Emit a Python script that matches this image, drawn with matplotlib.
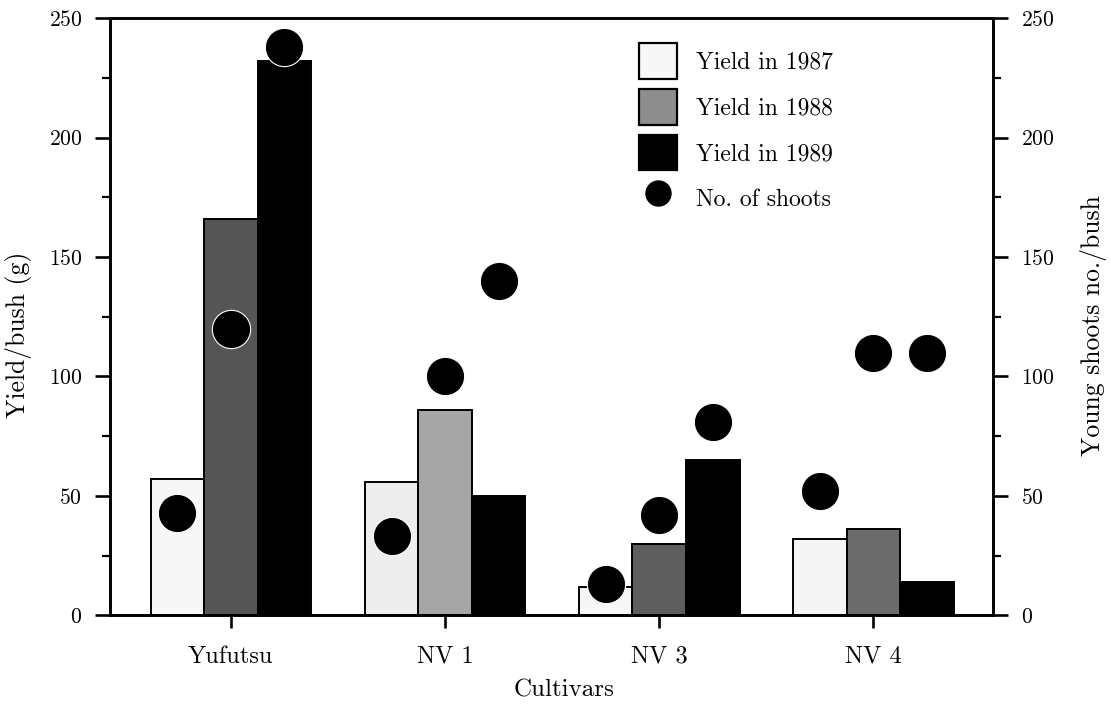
import matplotlib
matplotlib.use('Agg')
import matplotlib.pyplot as plt
from matplotlib.ticker import MultipleLocator
from matplotlib.patches import Patch
import numpy as np

# Data
cultivars = ['Yufutsu', 'NV 1', 'NV 3', 'NV 4']
years = ['1987', '1988', '1989']
yield_1987 = [57, 56, 12, 32]
yield_1988 = [166, 86, 30, 36]
yield_1989 = [232, 50, 65, 14]
shoots_1987 = [43, 33, 13, 52]
shoots_1988 = [120, 100, 42, 110]
shoots_1989 = [238, 140, 81, 110]


def make_chart():
    plt.rcParams['font.family'] = 'serif'
    plt.rcParams['font.serif'] = ['cmr10', 'DejaVu Serif']
    plt.rcParams['axes.formatter.use_mathtext'] = True
    plt.rcParams['mathtext.fontset'] = 'cm'

    fig = plt.figure(figsize=(11.11, 7.04), dpi=100)
    ax = fig.add_axes([0.099, 0.126, 0.795, 0.848])
    ax2 = ax.twinx()

    x = np.arange(len(cultivars))
    width = 0.25
    yields = [yield_1987, yield_1988, yield_1989]
    shoots = [shoots_1987, shoots_1988, shoots_1989]
    # the scanned stipple of 1988 varies a bit from bar to bar
    colors = [['#f7f7f7', '#ededed', '#f7f7f7', '#f5f5f5'],
              ['#555555', '#a6a6a6', '#5e5e5e', '#6c6c6c'],
              ['#000000'] * 4]
    legend_colors = ['#f7f7f7', '#8e8e8e', '#000000']

    for i, vals in enumerate(yields):
        ax.bar(x + (i - 1) * width, vals, width, color=colors[i],
               edgecolor='black', linewidth=1.4, zorder=2)

    # shoots are drawn on the right axis, one dot per bar
    for i, vals in enumerate(shoots):
        ax2.scatter(x + (i - 1) * width, vals, s=760, color='black',
                    edgecolors='white', linewidths=0.8, zorder=3)

    handles = [Patch(facecolor=legend_colors[i], edgecolor='black',
                     linewidth=1.6, label='Yield in ' + years[i])
               for i in range(3)]
    handles.append(plt.Line2D([], [], linestyle='none', marker='o',
                              markersize=18, color='black',
                              label='No. of shoots'))

    ax.set_xlim(-0.565, 3.56)
    ax.set_ylim(0, 250)
    ax2.set_ylim(0, 250)
    ax.set_xticks(x)
    ax.set_xticklabels(cultivars)

    for a in (ax, ax2):
        a.yaxis.set_major_locator(MultipleLocator(50))
        a.yaxis.set_minor_locator(MultipleLocator(25))
        for s in a.spines.values():
            s.set_linewidth(1.9)
        a.tick_params(axis='y', which='major', direction='out',
                      length=11, width=1.9, labelsize=15.5, pad=9)
        a.tick_params(axis='y', which='minor', direction='out',
                      length=6, width=1.6)

    ax.tick_params(axis='x', which='major', direction='out', length=9,
                   width=1.9, labelsize=17.5, pad=13)

    ax.set_ylabel('Yield/bush (g)', fontsize=18.5)
    ax.yaxis.set_label_coords(-0.088, 0.469)
    ax2.set_ylabel('Young shoots no./bush', fontsize=18.5)
    ax2.yaxis.set_label_coords(1.0985, 0.486)
    ax.set_xlabel('Cultivars', fontsize=18)
    ax.xaxis.set_label_coords(0.514, -0.108)

    ax.legend(handles=handles, loc='upper left',
              bbox_to_anchor=(0.599, 0.958), frameon=False, fontsize=17,
              handlelength=1.6, handleheight=1.95, labelspacing=0.42,
              handletextpad=0.8, borderpad=0, borderaxespad=0)

    fig.savefig('out.png', dpi=100)
    print('Chart saved to out.png')


if __name__ == "__main__":
    make_chart()
